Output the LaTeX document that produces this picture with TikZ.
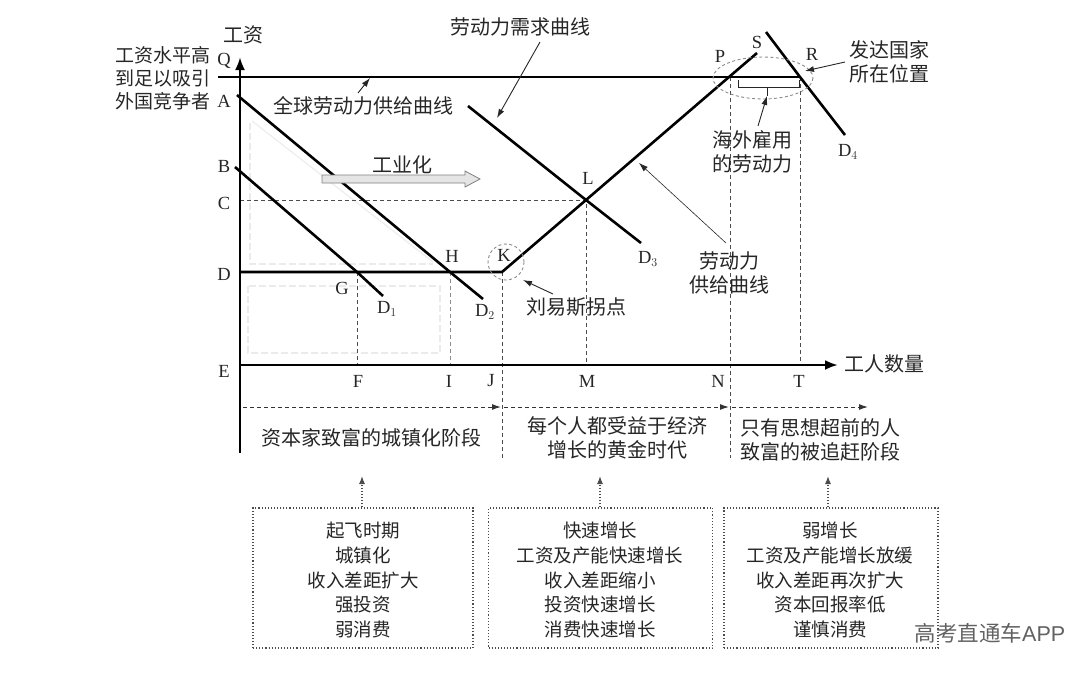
\documentclass[tikz,border=0pt]{standalone}
\usepackage{fontspec}
\setmainfont{Liberation Serif}
\newfontfamily\cjk{Noto Sans CJK SC}
\newfontfamily\wmfont{Liberation Sans}
\usetikzlibrary{arrows.meta}
\begin{document}
\begin{tikzpicture}[x=1pt,y=-1pt,
  cn/.style={font=\cjk\fontsize{20}{24}\selectfont, text=black!85, inner sep=0pt, align=center},
  bx/.style={font=\cjk\fontsize{18.5}{24.7}\selectfont, text=black!85, inner sep=0pt, align=center},
  lt/.style={font=\fontsize{18.5}{20}\selectfont, text=black!85, inner sep=0pt},
  curve/.style={line width=2.6pt, black},
  axisline/.style={line width=2.6pt, black, -{Latex[length=13pt,width=10pt]}},
  guide/.style={dash pattern=on 4pt off 3pt, line width=0.9pt, black!70},
  faint/.style={black!8, dash pattern=on 7pt off 3pt, line width=1.2pt},
  stagearrow/.style={dash pattern=on 4pt off 3pt, line width=1pt, black!80, -{Latex[length=9pt,width=6pt]}},
  callout/.style={line width=0.9pt, black!85, -{Latex[length=9pt,width=6pt]}},
  dotarrow/.style={dotted, line width=1.1pt, black!70, -{Latex[length=8pt,width=6pt]}},
  dotbox/.style={draw=black!70, dotted, line width=1.1pt},
  ring/.style={dash pattern=on 3pt off 2.5pt, line width=0.9pt, black!45}]
\useasboundingbox (0,0) rectangle (1080,673);

% key points
\coordinate (O) at (240,365);
\coordinate (Ytop) at (240,57);
\coordinate (Ybot) at (240,453);
\coordinate (Xend) at (838,365);
\coordinate (Qs) at (218,77);
\coordinate (R) at (800,77);
\coordinate (P) at (729,77);
\coordinate (A0) at (237,95);
\coordinate (H) at (450,272);
\coordinate (D2e) at (483,299);
\coordinate (B0) at (235,167);
\coordinate (G) at (357,272);
\coordinate (D1e) at (383,296);
\coordinate (Dl) at (240,272);
\coordinate (K) at (502,272);
\coordinate (L) at (586,200);
\coordinate (S) at (757,53);
\coordinate (D3s) at (468,106);
\coordinate (D3e) at (641,243);
\coordinate (D4s) at (766,32);
\coordinate (D4e) at (845,135);
\coordinate (Cl) at (240,200);
\coordinate (Fb) at (357,365);
\coordinate (Ib) at (450,365);
\coordinate (Jb) at (502,458);
\coordinate (Mb) at (586,365);
\coordinate (Nb) at (730,458);
\coordinate (Nt) at (730,77);
\coordinate (Tb) at (800,365);

% faint background shapes
\draw[faint] (250,123) -- (250,264) -- (433,264);
\draw[black!7, line width=1.2pt] (252,121) -- (433,262);
\draw[faint] (248,286) rectangle (440,353);

% guide lines
\draw[guide] (Cl) -- (L) -- (Mb);
\draw[guide] (G) -- (Fb);
\draw[guide, black!45] (H) -- (Ib);
\draw[guide] (K) -- (Jb);
\draw[guide] (Nt) -- (Nb);
\draw[guide] (R) -- (Tb);

% axes
\draw[axisline] (Ybot) -- (Ytop);
\draw[axisline] (O) -- (Xend);

% curves
\draw[curve] (Qs) -- (R);
\draw[curve] (A0) -- (H) -- (D2e);
\draw[curve] (B0) -- (G) -- (D1e);
\draw[curve] (Dl) -- (K) -- (L) -- (P) -- (S);
\draw[curve] (D3s) -- (L) -- (D3e);
\draw[curve] (D4s) -- (R) -- (D4e);

% rings
\draw[ring] (763,78) ellipse [x radius=50, y radius=21];
\draw[ring] (506,262) circle [radius=18];

% bracket
\draw[line width=1pt, black!85] (738,80) -- (738,87) -- (799,87) -- (799,80);
\coordinate (Brc) at (767,87);
\coordinate (Brt) at (767,96);
\draw[line width=1pt, black!85] (Brc) -- (Brt);

% industrialisation arrow
\draw[black!50, fill=black!10, line width=0.8pt]
  (322,175) -- (465,175) -- (465,171) -- (480,179) -- (465,187) -- (465,183) -- (322,183) -- cycle;
\node[cn] (ind) at (402,165) {工业化};

% axis and point labels
\node[cn] (yl) at (243,35) {工资};
\node[cn] (xl) at (884,364) {工人数量};
\node[lt] (lQ) at (224,61) {Q};
\node[lt] (lA) at (224,101) {A};
\node[lt] (lB) at (224,166) {B};
\node[lt] (lC) at (224,203) {C};
\node[lt] (lD) at (224,274) {D};
\node[lt] (lE) at (224,371) {E};
\node[lt] (lF) at (358,381) {F};
\node[lt] (lI) at (449,381) {I};
\node[lt] (lJ) at (491,381) {J};
\node[lt] (lM) at (587,381) {M};
\node[lt] (lN) at (718,381) {N};
\node[lt] (lT) at (799,381) {T};
\node[lt] (lG) at (342,288) {G};
\node[lt] (lH) at (452,256) {H};
\node[lt] (lK) at (504,255) {K};
\node[lt] (lL) at (588,178) {L};
\node[lt] (lP) at (720,56) {P};
\node[lt] (lS) at (757,42) {S};
\node[lt] (lR) at (812,54) {R};
\node[lt] (lD1) at (387,309) {D$_1$};
\node[lt] (lD2) at (485,312) {D$_2$};
\node[lt] (lD3) at (648,259) {D$_3$};
\node[lt] (lD4) at (848,152) {D$_4$};

% texts
\node[cn, font=\cjk\fontsize{19}{23}\selectfont] (high) at (163,78) {工资水平高\\到足以吸引\\外国竞争者};
\node[cn] (glob) at (363,106) {全球劳动力供给曲线};
\node[cn] (dem) at (520,27) {劳动力需求曲线};
\node[cn] (lewis) at (576,307) {刘易斯拐点};
\node[cn] (sup) at (729,273) {劳动力\\供给曲线};
\node[cn] (over) at (752,152) {海外雇用\\的劳动力};
\node[cn] (dev) at (889,62) {发达国家\\所在位置};

% callout arrows
\coordinate (globT) at (370,78);
\draw[callout] (358,93) -- (globT);
\coordinate (demT) at (497,118);
\draw[callout] (540,42) -- (demT);
\coordinate (lewT) at (523,280);
\draw[callout] (553,294) -- (lewT);
\coordinate (supT) at (639,163);
\draw[line width=0.6pt, black!85, -{Latex[length=9pt,width=6pt]}] (726,243) -- (supT);
\draw[callout] (758,126) -- (Brt);
\coordinate (devT) at (805,71);
\draw[callout] (845,62) -- (devT);

% stage arrows
\coordinate (s1a) at (243,407); \coordinate (s1b) at (501,407);
\coordinate (s2a) at (504,407); \coordinate (s2b) at (729,407);
\coordinate (s3a) at (732,407); \coordinate (s3b) at (868,407);
\draw[stagearrow] (s1a) -- (s1b);
\draw[stagearrow] (s2a) -- (s2b);
\draw[stagearrow] (s3a) -- (s3b);

\node[cn] (st1) at (371,438) {资本家致富的城镇化阶段};
\node[cn] (st2) at (617,438) {每个人都受益于经济\\增长的黄金时代};
\node[cn] (st3) at (820,440) {只有思想超前的人\\致富的被追赶阶段};

% boxes
\node[dotbox, minimum width=220pt, minimum height=140pt, inner sep=0pt] (b1) at (363,578) {};
\node[dotbox, minimum width=224pt, minimum height=140pt, inner sep=0pt] (b2) at (600.5,578) {};
\node[dotbox, minimum width=214pt, minimum height=140pt, inner sep=0pt] (b3) at (831,578) {};
\node[bx] (t1) at (363,580) {起飞时期\\城镇化\\收入差距扩大\\强投资\\弱消费};
\node[bx] (t2) at (600,580) {快速增长\\工资及产能快速增长\\收入差距缩小\\投资快速增长\\消费快速增长};
\node[bx] (t3) at (830,580) {弱增长\\工资及产能增长放缓\\收入差距再次扩大\\资本回报率低\\谨慎消费};

\coordinate (u1) at (362,476); \coordinate (u2) at (600,476); \coordinate (u3) at (828,476);
\draw[dotarrow] (b1.north -| u1) -- (u1);
\draw[dotarrow] (b2.north -| u2) -- (u2);
\draw[dotarrow] (b3.north -| u3) -- (u3);

% watermark
\node[inner sep=0pt, text=black!62, font=\fontsize{21.5}{24}\selectfont] (wm) at (990,633) {{\cjk 高考直通车}{\wmfont APP}};
\end{tikzpicture}
\end{document}
